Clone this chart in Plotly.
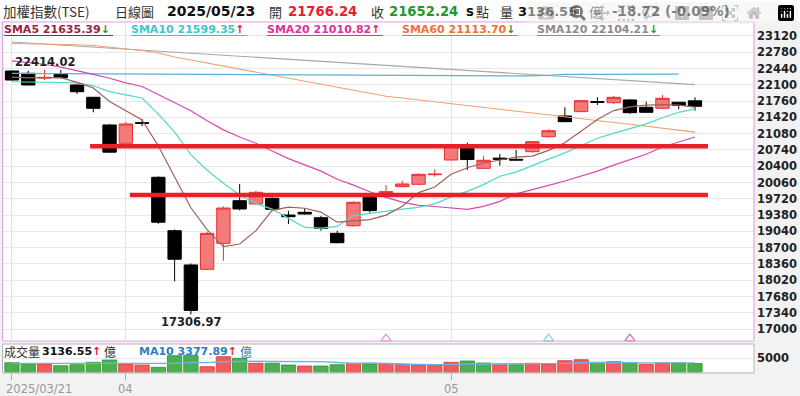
import plotly.graph_objects as go

# ---------------- data ----------------
dates = ["2025/03/21", "2025/03/24", "2025/03/25", "2025/03/26", "2025/03/27", "2025/03/28", "2025/03/31",
         "2025/04/01", "2025/04/02", "2025/04/07", "2025/04/08", "2025/04/09", "2025/04/10", "2025/04/11",
         "2025/04/14", "2025/04/15", "2025/04/16", "2025/04/17", "2025/04/18", "2025/04/21", "2025/04/22",
         "2025/04/23", "2025/04/24", "2025/04/25", "2025/04/28", "2025/04/29", "2025/04/30", "2025/05/02",
         "2025/05/05", "2025/05/06", "2025/05/07", "2025/05/08", "2025/05/09", "2025/05/12", "2025/05/13",
         "2025/05/14", "2025/05/15", "2025/05/16", "2025/05/19", "2025/05/20", "2025/05/21", "2025/05/22",
         "2025/05/23"]

opens = [22389, 22341, 22240, 22327, 22097, 21840, 21262, 20880, 21310, 20170, 19055, 18340, 18249, 18791,
         19681, 19612, 19731, 19382, 19439, 19326, 19000, 19159, 19752, 19800, 19974, 20024, 20224, 20531,
         20775, 20357, 20570, 20545, 20705, 21017, 21450, 21540, 21750, 21727, 21784, 21631, 21610, 21736,
         21766.24]
highs = [22400, 22395, 22414.02, 22410, 22110, 21850, 21280, 21324, 21390, 20190, 19080, 18370, 19035, 19560,
         20030, 19890, 19750, 19473, 19522, 19362, 19055, 19670, 19770, 20009, 20093, 20250, 20337, 20830,
         20892, 20614, 20656, 20740, 20930, 21172, 21631, 21790, 21840, 21867, 21800, 21748, 21888, 21745,
         21840]
lows = [22190, 22090, 22201, 22240, 21909, 21527, 20680, 20860, 21240, 19200, 17998, 17306.97, 18230, 18428,
        19480, 19600, 19473, 19195, 19390, 19055, 18790, 19140, 19431, 19790, 19960, 20010, 20182, 20520,
        20322, 20340, 20412, 20520, 20684, 21000, 21320, 21530, 21680, 21700, 21491, 21510, 21600, 21590,
        21560]
closes = [22201, 22097, 22255, 22249, 21957, 21610, 20695, 21283, 21298, 19232, 18459, 17391, 19000, 19528,
          19508, 19856, 19502, 19347, 19403, 19105, 18804, 19648, 19474, 19870, 20030, 20232, 20235, 20809,
          20540, 20525, 20545, 20530, 20913, 21142, 21331, 21769, 21735, 21840, 21519, 21527, 21819, 21670.96,
          21652.24]

sma5 = [22260, 22245, 22250, 22250, 22152, 22034, 21753, 21559, 21369, 20824, 20193, 19533, 19076, 18722,
        18777, 19057, 19479, 19548, 19523, 19443, 19232, 19261, 19287, 19380, 19565, 19851, 19968, 20235,
        20369, 20468, 20531, 20590, 20611, 20731, 20892, 21137, 21378, 21563, 21639, 21678, 21688, 21675,
        21635.39]
sma10 = [22165, 22160, 22155, 22150, 22140, 22080, 21960, 21890, 21825, 21488, 21114, 20643, 20317, 20045,
         19800, 19625, 19506, 19312, 19123, 19110, 19144, 19370, 19418, 19452, 19504, 19542, 19615, 19761,
         19875, 20017, 20191, 20279, 20423, 20550, 20680, 20834, 20984, 21087, 21185, 21285, 21413, 21527,
         21599.35]
sma20 = [22600, 22570, 22530, 22470, 22400, 22320, 22237, 22140, 22065, 21900, 21730, 21560, 21350, 21160,
         21010, 20880, 20720, 20560, 20430, 20299, 20129, 20007, 19867, 19749, 19652, 19583, 19560, 19537,
         19499, 19563, 19668, 19825, 19920, 20001, 20092, 20188, 20299, 20424, 20530, 20651, 20802, 20903,
         21010.82]
sma60 = [22963, 22959, 22953, 22947, 22938, 22922, 22890, 22859, 22817, 22765, 22682, 22619, 22556, 22483,
         22420, 22368, 22306, 22243, 22170, 22107, 22045, 21982, 21919, 21861, 21825, 21784, 21746, 21708,
         21669, 21627, 21590, 21550, 21512, 21470, 21433, 21393, 21354, 21314, 21277, 21237, 21200, 21158,
         21113.70]
sma120 = [22995, 22975, 22953, 22933, 22910, 22888, 22868, 22846, 22825, 22803, 22782, 22760, 22740, 22718,
          22697, 22675, 22655, 22633, 22612, 22592, 22571, 22550, 22528, 22507, 22485, 22464, 22443, 22422,
          22400, 22379, 22358, 22337, 22315, 22294, 22273, 22251, 22230, 22208, 22187, 22166, 22145, 22125,
          22104.21]
ma_long = [22338, 22336, 22335, 22333, 22332, 22330, 22328, 22326, 22324, 22322, 22320, 22318, 22316, 22314,
           22312, 22310, 22308, 22306, 22304, 22302, 22300, 22298, 22296, 22294, 22292, 22290, 22289, 22288,
           22287, 22286, 22285, 22285, 22286, 22300, 22318, 22320, 22320, 22321, 22321, 22322, 22322, 22322]

volume = [3450, 2886, 2992, 2394, 2746, 3590, 4400, 2992, 2640, 1830, 5914, 6054, 2042, 5562, 5000, 3238,
          3238, 2640, 2288, 2288, 2746, 3238, 2992, 3098, 2886, 2640, 2746, 3590, 4048, 3344, 2746, 2746,
          3238, 2992, 4154, 4506, 3590, 3802, 3344, 2886, 3344, 3344, 3136.55]
vol_dir = "GGRGGGGRRGGGRRGRGGRGGRGRRRRRGGRGRRRRGRGRRGG"
vol_ma10 = [3210, 3190, 3180, 3160, 3150, 3180, 3260, 3250, 3230, 3200, 3238, 3555, 3460, 3777, 4002, 3967,
            3851, 3816, 3781, 3826, 3510, 3228, 3323, 3077, 2865, 2805, 2756, 2851, 3027, 3133, 3133, 3084,
            3108, 3098, 3224, 3411, 3495, 3517, 3446, 3400, 3420, 3440, 3377.89]

price_ticks = [17000, 17340, 17680, 18020, 18360, 18700, 19040, 19380, 19720, 20060, 20400, 20740,
               21080, 21420, 21760, 22100, 22440, 22780, 23120]
vol_ticks = [5000]
support_levels = [20820, 19800]
cross_idx = [23, 33, 38]
month_idx = [0, 7, 27]
month_labels = ["2025/03/21", "04", "05"]

sma_names = ["SMA5", "SMA10", "SMA20", "SMA60", "SMA120"]
sma_last = ["21635.39", "21599.35", "21010.82", "21113.70", "22104.21"]
sma_trend = ["down", "up", "up", "down", "down"]

# ---------------- helpers ----------------
W, H = 800, 396
def px(x):
    return x / W
def py(y):
    return 1 - y / H

RED = "#e8202a"
GREEN = "#23992a"
NUM = "DejaVu Sans"
CJK = "Noto Sans CJK TC"

fig = go.Figure()

# volume
vol_colors = ["#f25c5c" if d == "R" else "#4caf50" for d in vol_dir]
vol_lines = ["#d63a3a" if d == "R" else "#2f8f33" for d in vol_dir]
fig.add_trace(go.Bar(x=dates, y=volume, xaxis="x2", yaxis="y2",
                     marker=dict(color=vol_colors, line=dict(color=vol_lines, width=0.8)),
                     showlegend=False))
fig.add_trace(go.Scatter(x=dates, y=vol_ma10, xaxis="x2", yaxis="y2", mode="lines",
                         line=dict(color="#6bb3e6", width=1.4), showlegend=False))

# candles
fig.add_trace(go.Candlestick(x=dates, open=opens, high=highs, low=lows, close=closes,
                             increasing=dict(fillcolor="#f47a7a", line=dict(color="#e83030", width=1)),
                             decreasing=dict(fillcolor="#000000", line=dict(color="#000000", width=1)),
                             whiskerwidth=0, showlegend=False))

ma_styles = [
    (sma120, "#a8a8a8", 1.1),
    (sma60, "#f0a070", 1.1),
    (ma_long, "#58b0d8", 1.2),
    (sma20, "#d848b0", 1.2),
    (sma10, "#50d8c8", 1.2),
    (sma5, "#a0605a", 1.2),
]
for vals, col, wdt in ma_styles:
    fig.add_trace(go.Scatter(x=dates[:len(vals)], y=vals, mode="lines", line=dict(color=col, width=wdt),
                             showlegend=False))

fig.add_trace(go.Scatter(x=[dates[i] for i in cross_idx], y=[16800] * len(cross_idx), mode="markers",
                         marker=dict(symbol="triangle-up-open", size=9,
                                     color=["#e890d0", "#70d8d8", "#c07090"],
                                     line=dict(width=1.2)),
                         cliponaxis=False, showlegend=False))

shapes = []
# header white band
shapes.append(dict(type="rect", xref="paper", yref="paper", x0=0, x1=1, y0=py(21), y1=1,
                   fillcolor="white", line=dict(width=0), layer="below"))
# support lines
for lvl, xs in zip(support_levels, [4.8, 7.25]):
    shapes.append(dict(type="line", xref="x", yref="y", x0=xs, x1=42.8, y0=lvl, y1=lvl,
                       line=dict(color=RED, width=4.5)))
# panel frames
shapes.append(dict(type="rect", xref="paper", yref="paper", x0=px(2.5), x1=px(754), y0=py(341), y1=py(22),
                   line=dict(color="#e6a6e6", width=1.2)))
shapes.append(dict(type="rect", xref="paper", yref="paper", x0=px(2.5), x1=px(754), y0=py(373), y1=py(344),
                   line=dict(color="#b4b4b4", width=1)))

ann = []
def text(x, y, t, color="#333", size=13, family=CJK, bold=False, xanchor="left"):
    ann.append(dict(xref="paper", yref="paper", x=px(x), y=py(y), xanchor=xanchor, yanchor="middle",
                    text=t, showarrow=False, borderpad=0,
                    font=dict(color=color, size=size, family=family, weight="bold" if bold else "normal")))

# header line
HN = 13.2
text(2, 11, "加權指數(TSE)", size=13.5)
text(114, 11, "日線圖", size=13)
text(166, 11, "2025/05/23", color="#111", size=14, family=NUM, bold=True)
text(268, 11, "開", size=13)
text(287, 11, "21766.24", color=RED, size=HN, family=NUM, bold=True)
text(370, 11, "收", size=13)
text(388, 11, "21652.24", color=GREEN, size=HN, family=NUM, bold=True)
text(465, 11, "s", color="#111", size=HN, family=NUM, bold=True)
text(475, 11, "點", size=13)
text(499, 11, "量", size=13)
text(517, 11, "3136.55", color="#111", size=13, family=NUM, bold=True)
text(588, 11, "億", size=13)
text(611, 11, "-18.72 (-0.09%)", color="#111", size=13.5, family=NUM, bold=True)

# legend row
leg_x = [3, 130, 266, 401, 536]
leg_end = [113, 248, 383, 518, 660]
leg_col = ["#9a2440", "#3cc8c8", "#e0309a", "#f07038", "#8c8c8c"]
for name, val, tr, x0, x1, col in zip(sma_names, sma_last, sma_trend, leg_x, leg_end, leg_col):
    arrow = "<span style='color:%s'>%s</span>" % ((RED, "↑") if tr == "up" else (GREEN, "↓"))
    text(x0, 29.5, "%s %s%s" % (name, val, arrow), color=col, size=11, family=NUM, bold=True)
    shapes.append(dict(type="line", xref="paper", yref="paper", x0=px(x0 + 1), x1=px(x1), y0=py(35.5),
                       y1=py(35.5), line=dict(color=col, width=1)))

# volume header
text(3, 351.5, "成交量", size=12)
text(41, 351.5, "3136.55<span style='color:%s'>↑</span>" % RED, color="#111", size=11, family=NUM, bold=True)
text(103, 351.5, "億", size=12)
text(138, 351.5, "MA10 3377.89<span style='color:%s'>↑</span>" % RED, color="#2a7fc0", size=11,
     family=NUM, bold=True)
text(239, 351.5, "億", color="#2a7fc0", size=12)

# date labels
text(5, 388.5, month_labels[0], color="#999", size=11.5, family=NUM)
for i, lab in zip(month_idx[1:], month_labels[1:]):
    ann.append(dict(xref="x2", yref="paper", x=i, y=py(388.5), xanchor="center", yanchor="middle",
                    text=lab, showarrow=False, font=dict(color="#999", size=11.5, family=NUM)))

# high / low labels
imax = highs.index(max(highs))
imin = lows.index(min(lows))
ann.append(dict(xref="x", yref="y", x=imax, y=highs[imax], xanchor="center", yanchor="bottom", yshift=-1,
                text="%.2f" % highs[imax], showarrow=False,
                font=dict(color="#222", size=11.5, family=NUM, weight="bold")))
ann.append(dict(xref="x", yref="y", x=imin, y=lows[imin], xanchor="center", yanchor="top", yshift=1,
                text="%.2f" % lows[imin], showarrow=False,
                font=dict(color="#222", size=11.5, family=NUM, weight="bold")))

xr = [-0.553, 45.63]
fig.update_layout(
    width=W, height=H, autosize=False,
    margin=dict(l=0, r=0, t=0, b=0),
    paper_bgcolor="#f2f2f2", plot_bgcolor="white",
    boxgap=0.18, boxgroupgap=0, bargap=0.12,
    showlegend=False,
    xaxis=dict(domain=[px(3), px(754)], anchor="y", type="category", range=xr,
               tickvals=[dates[i] for i in month_idx], showticklabels=False, ticks="",
               showgrid=True, gridcolor="#e2e2e2", zeroline=False, showline=False,
               rangeslider=dict(visible=False), fixedrange=True),
    yaxis=dict(domain=[py(341), py(22)], anchor="x", range=[16752, 23412], side="right",
               tickvals=price_ticks, ticktext=[str(v) for v in price_ticks],
               tickfont=dict(size=11.5, family=NUM, color="#222", weight="bold"),
               showgrid=True, gridcolor="#e8e8e8", zeroline=False, showline=False, ticks="",
               ticklen=0, ticklabelstandoff=2),
    xaxis2=dict(domain=[px(3), px(754)], anchor="y2", type="category", matches="x",
                tickvals=[dates[i] for i in month_idx], showticklabels=False, ticks="outside",
                ticklen=6, tickcolor="#aaaaaa", showgrid=False, zeroline=False, showline=False),
    yaxis2=dict(domain=[py(372.5), py(344)], anchor="x2", range=[0, 10032], side="right",
                tickvals=vol_ticks, ticktext=[str(v) for v in vol_ticks],
                tickfont=dict(size=11.5, family=NUM, color="#222", weight="bold"),
                showgrid=True, gridcolor="#ececec", zeroline=False, showline=False, ticks="",
                ticklen=0, ticklabelstandoff=2),
    shapes=shapes, annotations=ann,
)

fig.write_html("out.html",
               post_script="document.body.style.margin='0';document.body.style.overflow='hidden';")
